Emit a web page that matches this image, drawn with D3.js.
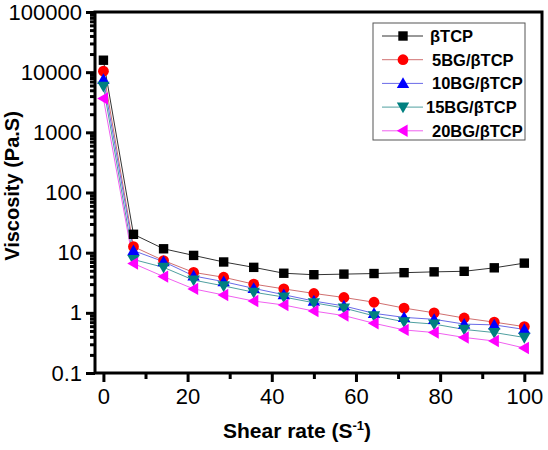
<!DOCTYPE html>
<html><head><meta charset="utf-8">
<script src="https://cdn.jsdelivr.net/npm/d3@7"></script>
<style>body{margin:0;background:#fff}svg{display:block}</style>
</head><body>
<script>
const shearRate = [0, 7.14, 14.29, 21.43, 28.57, 35.71, 42.86, 50, 57.14, 64.29, 71.43, 78.57, 85.71, 92.86, 100];
const seriesNames = ["\u03b2TCP", "5BG/\u03b2TCP", "10BG/\u03b2TCP", "15BG/\u03b2TCP", "20BG/\u03b2TCP"];
const tcp   = [15800, 20.2, 11.6, 9.0, 7.0, 5.7, 4.55, 4.3, 4.4, 4.5, 4.65, 4.8, 4.9, 5.6, 6.7];
const bg5   = [10400, 12.6, 7.4, 4.7, 3.9, 3.0, 2.5, 2.1, 1.8, 1.5, 1.2, 1.0, 0.82, 0.70, 0.59];
const bg10  = [7600, 10.8, 7.1, 4.1, 3.3, 2.55, 2.0, 1.57, 1.3, 0.98, 0.84, 0.78, 0.65, 0.63, 0.53];
const bg15  = [5800, 7.7, 5.7, 3.5, 2.8, 2.2, 1.83, 1.47, 1.2, 0.89, 0.71, 0.65, 0.53, 0.47, 0.39];
const bg20  = [3650, 6.6, 4.0, 2.5, 1.98, 1.57, 1.35, 1.07, 0.90, 0.67, 0.52, 0.47, 0.39, 0.34, 0.26];
const yTickValues = [0.1, 1, 10, 100, 1000, 10000, 100000];
const yTickLabels = ["0.1", "1", "10", "100", "1000", "10000", "100000"];
const xTickValues = [0, 20, 40, 60, 80, 100];

const series = [tcp, bg5, bg10, bg15, bg20];
const markerColors = ["#000000", "#ff0000", "#0000ff", "#008080", "#ff00ff"];
const lineColors = ["#333333", "#d07070", "#6a6ae8", "#4fa0a0", "#f060f0"];
const markerTypes = ["square", "circle", "up", "down", "left"];

const W = 548, H = 450;
const L = 95, R = 542, T = 12, B = 373;
const svg = d3.select("body").append("svg").attr("width", W).attr("height", H);

const x = d3.scaleLinear().domain([-2, 104.2]).range([L, R]);
const y = d3.scaleLog().domain([0.1, 100000]).range([B, T]);

function marker(g, type, color) {
  let s;
  if (type === "square") s = g.append("rect").attr("x", -4.7).attr("y", -4.7).attr("width", 9.4).attr("height", 9.4);
  else if (type === "circle") s = g.append("circle").attr("r", 5.4);
  else {
    const p = {up: "M0,-6.2L6.2,4.6L-6.2,4.6Z", down: "M0,6.2L6.2,-4.6L-6.2,-4.6Z", left: "M-6.2,0L4.6,-6.2L4.6,6.2Z"}[type];
    s = g.append("path").attr("d", p);
  }
  s.attr("fill", color);
}

// series
const line = d3.line().x((d, i) => x(shearRate[i])).y(d => y(d));
series.forEach((vals, k) => {
  svg.append("path").datum(vals).attr("d", line).attr("fill", "none")
    .attr("stroke", lineColors[k]).attr("stroke-width", 1);
});
series.forEach((vals, k) => {
  vals.forEach((v, i) => {
    const g = svg.append("g").attr("transform", `translate(${x(shearRate[i])},${y(v)})`);
    marker(g, markerTypes[k], markerColors[k]);
  });
});

// axes
const font = "Arial, 'Liberation Sans', sans-serif";
const xAxis = d3.axisBottom(x).tickValues(xTickValues).tickSize(9).tickPadding(6).tickFormat(d3.format("d"));
const gx = svg.append("g").attr("transform", `translate(0,${B})`).call(xAxis);
const xMinor = d3.axisBottom(x).tickValues([10, 30, 50, 70, 90]).tickSize(6).tickFormat("");
const gxm = svg.append("g").attr("transform", `translate(0,${B})`).call(xMinor);

const yAxis = d3.axisLeft(y).tickValues(yTickValues).tickSize(9).tickPadding(4)
  .tickFormat((d, i) => yTickLabels[i]);
const gy = svg.append("g").attr("transform", `translate(${L},0)`).call(yAxis);
const minorY = [];
for (let e = -1; e < 5; e++) for (let m = 2; m <= 9; m++) minorY.push(m * Math.pow(10, e));
const gym = svg.append("g").attr("transform", `translate(${L},0)`).call(d3.axisLeft(y).tickValues(minorY).tickSize(5).tickFormat(""));

[gx, gxm, gy, gym].forEach(g => {
  g.select(".domain").remove();
  g.selectAll("line").attr("stroke", "#000").attr("stroke-width", 3);
  g.selectAll("text").attr("font-family", font).attr("font-size", 22).attr("fill", "#000");
});

// frame
svg.append("rect").attr("x", L).attr("y", T).attr("width", R - L).attr("height", B - T)
  .attr("fill", "none").attr("stroke", "#000").attr("stroke-width", 3);

// axis titles
svg.append("text").attr("x", 297).attr("y", 438).attr("text-anchor", "middle")
  .attr("font-family", font).attr("font-weight", "bold").attr("font-size", 21)
  .html('Shear rate (S<tspan font-size="13" dy="-8">-1</tspan><tspan dy="8">)</tspan>');
svg.append("text").attr("transform", "translate(19,186) rotate(-90)").attr("text-anchor", "middle")
  .attr("font-family", font).attr("font-weight", "bold").attr("font-size", 20)
  .text("Viscosity (Pa.S)");

// legend
const lg = svg.append("g");
lg.append("rect").attr("x", 373).attr("y", 23).attr("width", 152).attr("height", 117)
  .attr("fill", "#fff").attr("stroke", "#555").attr("stroke-width", 1);
seriesNames.forEach((name, k) => {
  const yy = 36 + k * 23.7;
  lg.append("line").attr("x1", 382).attr("x2", 423).attr("y1", yy).attr("y2", yy)
    .attr("stroke", lineColors[k]).attr("stroke-width", 1);
  const g = lg.append("g").attr("transform", `translate(403,${yy})`);
  marker(g, markerTypes[k], markerColors[k]);
  lg.append("text").attr("x", k === 0 ? 430 : (k === 3 ? 426 : 432)).attr("y", yy + 6)
    .attr("font-family", font).attr("font-weight", "bold").attr("font-size", 16.5).text(name);
});
</script>
</body></html>
